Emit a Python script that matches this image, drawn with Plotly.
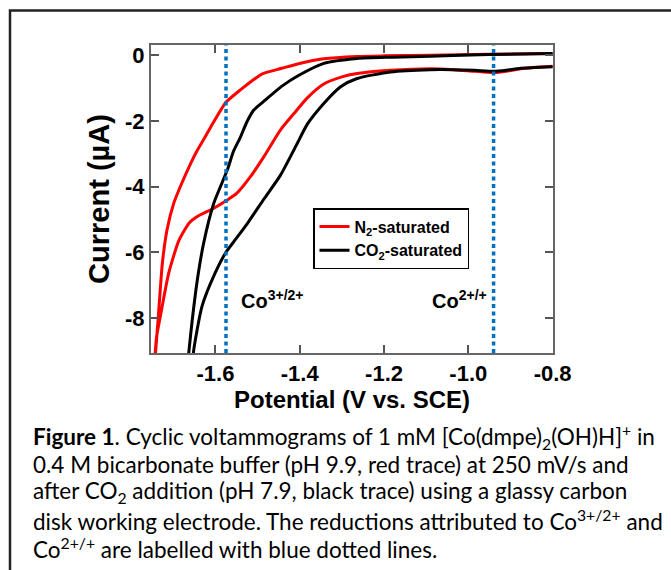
import plotly.graph_objects as go

# ---------------- data ----------------
# N2-saturated CV: upper branch (from -0.8 V going negative), then return branch
n2_potential = [-0.80, -0.95, -1.09, -1.20, -1.264, -1.343, -1.403, -1.443, -1.475, -1.492,
                -1.51, -1.54, -1.5755, -1.605, -1.625, -1.644, -1.659, -1.68, -1.699,
                -1.715, -1.726, -1.735, -1.742, -1.746,
                -1.740, -1.730, -1.711, -1.687, -1.662, -1.643, -1.604, -1.572, -1.549,
                -1.517, -1.485, -1.446, -1.41, -1.382, -1.343, -1.30, -1.264, -1.185,
                -1.09, -1.035, -0.985, -0.94, -0.91, -0.876, -0.80]
n2_current = [0.05, 0.03, 0.0, -0.02, -0.04, -0.11, -0.26, -0.40, -0.51, -0.59,
              -0.75, -1.05, -1.44, -2.05, -2.50, -2.92, -3.30, -3.9, -4.51,
              -5.32, -6.33, -7.85, -9.02, -9.6,
              -8.6, -7.9, -6.64, -5.65, -5.1, -4.91, -4.66, -4.41, -4.20,
              -3.70, -3.09, -2.28, -1.72, -1.30, -0.88, -0.66, -0.56, -0.46,
              -0.41, -0.44, -0.49, -0.53, -0.49, -0.41, -0.34]

# CO2-saturated CV
co2_potential = [-0.80, -0.95, -1.09, -1.18, -1.264, -1.343, -1.403, -1.443, -1.482, -1.509,
                 -1.525, -1.541, -1.557, -1.572, -1.604, -1.628, -1.643, -1.655, -1.663, -1.667,
                 -1.655, -1.652, -1.632, -1.601, -1.575, -1.553, -1.524, -1.485, -1.446,
                 -1.408, -1.382, -1.343, -1.303, -1.264, -1.185, -1.09, -1.035, -0.985,
                 -0.94, -0.91, -0.876, -0.80]
co2_current = [0.05, 0.02, -0.03, -0.06, -0.10, -0.25, -0.62, -0.95, -1.37, -1.67,
               -2.02, -2.50, -2.92, -3.50, -4.51, -5.72, -6.84, -8.05, -9.02, -9.6,
               -9.6, -9.02, -7.65, -6.64, -6.0, -5.62, -5.12, -4.38, -3.66,
               -2.74, -2.10, -1.47, -0.96, -0.71, -0.51, -0.44, -0.44, -0.46,
               -0.49, -0.46, -0.40, -0.35]

series_names = ["N<sub>2</sub>-saturated", "CO<sub>2</sub>-saturated"]
series_colors = ["#FF0000", "#000000"]

peak_potentials = [-1.575, -0.94]
peak_labels = ["Co<sup>3+/2+</sup>", "Co<sup>2+/+</sup>"]
peak_label_x = [-1.465, -1.02]
peak_label_y = -7.45

x_tickvals = [-1.6, -1.4, -1.2, -1.0, -0.8]
x_ticktext = ["-1.6", "-1.4", "-1.2", "-1.0", "-0.8"]
y_tickvals = [0, -2, -4, -6, -8]
y_ticktext = ["0", "-2", "-4", "-6", "-8"]

caption_lines = [
    "<b>Figure 1</b>. Cyclic voltammograms of 1 mM [Co(dmpe)<sub>2</sub>(OH)H]<sup>+</sup> in",
    "0.4 M bicarbonate buffer (pH 9.9, red trace) at 250 mV/s and",
    "after CO<sub>2</sub> addition (pH 7.9, black trace) using a glassy carbon",
    "disk working electrode. The reductions attributed to Co<sup>3+/2+</sup> and",
    "Co<sup>2+/+</sup> are labelled with blue dotted lines.",
]

# ---------------- figure ----------------
W, H = 671, 570
L, R, T, B = 151, 118, 45, 217
plot_w = W - L - R
plot_h = H - T - B


def px_to_paper_x(px):
    return (px - L) / plot_w


def px_to_paper_y(py):
    return (H - B - py) / plot_h


fig = go.Figure()
for xs, ys, name, col in [(n2_potential, n2_current, series_names[0], series_colors[0]),
                          (co2_potential, co2_current, series_names[1], series_colors[1])]:
    fig.add_trace(go.Scatter(x=xs, y=ys, mode="lines", name=name,
                             line=dict(color=col, width=3, shape="spline", smoothing=0.6)))

for xv in peak_potentials:
    fig.add_shape(type="line", xref="x", yref="paper", x0=xv, x1=xv, y0=0, y1=1,
                  line=dict(color="#0070C0", width=3.5, dash="4px,3.5px"), layer="above")

for lx, lab in zip(peak_label_x, peak_labels):
    fig.add_annotation(x=lx, y=peak_label_y, xref="x", yref="y", text="<b>" + lab + "</b>",
                       showarrow=False, font=dict(family="Arial", size=20, color="black"))

# outer border
fig.add_shape(type="rect", xref="paper", yref="paper",
              x0=px_to_paper_x(10), x1=px_to_paper_x(700),
              y0=px_to_paper_y(600), y1=px_to_paper_y(10.5),
              line=dict(color="#222222", width=2.5), fillcolor="rgba(0,0,0,0)", layer="below")

line_y = [436, 464, 492, 520, 548]
for py, txt in zip(line_y, caption_lines):
    fig.add_annotation(x=px_to_paper_x(31), y=px_to_paper_y(py), xref="paper", yref="paper",
                       xanchor="left", yanchor="middle", text=txt, showarrow=False,
                       font=dict(family="Lato", size=22.5, color="black"))

axis_common = dict(showgrid=False, zeroline=False, showline=True, linecolor="#666666",
                   linewidth=2, mirror="ticks", ticks="inside", ticklen=8, tickwidth=1.5,
                   tickcolor="#555555",
                   tickfont=dict(family="Arial", size=22, color="black", weight="bold"))

fig.update_xaxes(range=[-1.753, -0.799], tickvals=x_tickvals, ticktext=x_ticktext,
                 title=dict(text="Potential (V vs. SCE)", standoff=4,
                            font=dict(family="Arial", size=24, color="black", weight="bold")),
                 **axis_common)
fig.update_yaxes(range=[-9.07, 0.31], tickvals=y_tickvals, ticktext=y_ticktext,
                 title=dict(text="Current (µA)", standoff=7,
                            font=dict(family="Arial", size=29, color="black", weight="bold")),
                 **axis_common)

fig.update_layout(
    width=W, height=H, margin=dict(l=L, r=R, t=T, b=B, autoexpand=False),
    paper_bgcolor="white", plot_bgcolor="white",
    legend=dict(x=px_to_paper_x(313), y=px_to_paper_y(208), xanchor="left", yanchor="top",
                bordercolor="black", borderwidth=1.5, bgcolor="white",
                font=dict(family="Arial", size=16, color="black", weight="bold"),
                itemwidth=30, tracegroupgap=0),
    showlegend=True,
)

fig.write_html("out.html", config={"displayModeBar": False},
               post_script="document.body.style.margin='0';")
